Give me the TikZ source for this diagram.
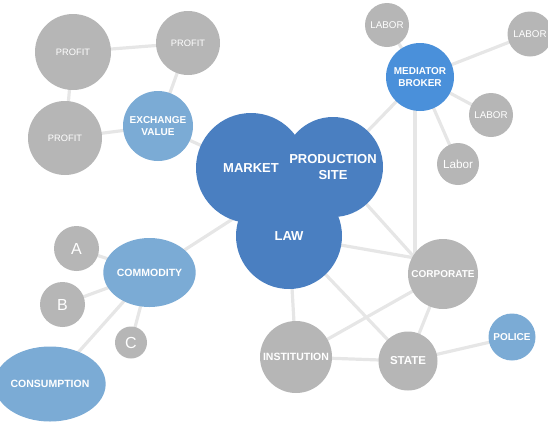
\documentclass[tikz,border=0pt]{standalone}
\usepackage{fontspec}
\setmainfont{Liberation Sans}
\usetikzlibrary{shapes.geometric}
\definecolor{darkblue}{HTML}{4A7FC1}
\definecolor{lightblue}{HTML}{7BABD5}
\definecolor{medblue}{HTML}{4A90DA}
\definecolor{nodegray}{HTML}{B6B6B6}
\definecolor{edgegray}{HTML}{E6E6E6}
\tikzset{
  bubble/.style={circle, inner sep=0pt, draw=none, text=white, align=center, font=\bfseries},
  oval/.style={ellipse, inner sep=0pt, draw=none, text=white, align=center, font=\bfseries},
  link/.style={draw=edgegray, line width=3.2pt},
  fs/.style={font=\fontsize{#1}{#1}\selectfont\bfseries},
  fr/.style={font=\fontsize{#1}{#1}\selectfont},
}
\begin{document}
\begin{tikzpicture}[x=1pt,y=-1pt]
\useasboundingbox (0,0) rectangle (548,424);
% coordinates
\coordinate (p1c) at (73,52);
\coordinate (p2c) at (188,43);
\coordinate (p3c) at (65,138);
\coordinate (exc) at (158,126);
\coordinate (marketc) at (251,168);
\coordinate (prodc) at (333,167);
\coordinate (lawc) at (289,236);
\coordinate (medc) at (420,77);
\coordinate (l1c) at (387,25);
\coordinate (l2c) at (530,34);
\coordinate (l3c) at (491,115);
\coordinate (l4c) at (458,164);
\coordinate (corpc) at (443,274);
\coordinate (statec) at (408,361);
\coordinate (policec) at (512,337);
\coordinate (instc) at (296,357);
\coordinate (commc) at (149.5,272.5);
\coordinate (ac) at (76.5,248.5);
\coordinate (bc) at (62.5,304.5);
\coordinate (cc) at (131,342.5);
\coordinate (consc) at (50,384);
\coordinate (cj) at (415,258);
\coordinate (blobj) at (270,195);
% links
\draw[link] (p1c) -- (p2c);
\draw[link] (p1c) -- (p3c);
\draw[link] (p2c) -- (exc);
\draw[link] (p3c) -- (exc);
\draw[link] (exc) -- (marketc);
\draw[link] (medc) -- (l1c);
\draw[link] (medc) -- (l2c);
\draw[link] (medc) -- (l3c);
\draw[link] (medc) -- (l4c);
\draw[link] (medc) -- (prodc);
\draw[link] (cj |- medc) -- (cj);
\draw[link] (prodc) -- (cj);
\draw[link] (lawc) -- (cj);
\draw[link] (lawc) -- (statec);
\draw[link] (lawc) -- (instc);
\draw[link] (instc) -- (corpc);
\draw[link] (instc) -- (statec);
\draw[link] (corpc) -- (statec);
\draw[link] (statec) -- (policec);
\draw[link] (commc) -- (blobj);
\draw[link] (commc) -- (ac);
\draw[link] (commc) -- (bc);
\draw[link] (commc) -- (cc);
\draw[link] (commc) -- (consc);
% nodes
\node[bubble, fill=nodegray, minimum size=76pt, fr=9.3] (p1) at (p1c) {PROFIT};
\node[bubble, fill=nodegray, minimum size=64pt, fr=9.3] (p2) at (p2c) {PROFIT};
\node[bubble, fill=nodegray, minimum size=74pt, fr=9.3] (p3) at (p3c) {PROFIT};
\node[bubble, fill=lightblue, minimum size=70pt, fs=10] (ex) at (exc) {EXCHANGE\\[1.5pt]VALUE};
\node[bubble, fill=darkblue, minimum size=110pt, fs=13] (market) at (marketc) {MARKET};
\node[bubble, fill=darkblue, minimum size=100pt, fs=13] (prod) at (prodc) {PRODUCTION\\[2.5pt]SITE};
\node[bubble, fill=darkblue, minimum size=106pt, fs=13] (law) at (lawc) {LAW};
\node[bubble, fill=medblue, minimum size=68pt, fs=10] (med) at (medc) {MEDIATOR\\[1.5pt]BROKER};
\node[bubble, fill=nodegray, minimum size=44pt, fr=9.8] (l1) at (l1c) {LABOR};
\node[bubble, fill=nodegray, minimum size=45pt, fr=9.8] (l2) at (l2c) {LABOR};
\node[bubble, fill=nodegray, minimum size=44pt, fr=9.8] (l3) at (l3c) {LABOR};
\node[bubble, fill=nodegray, minimum size=42pt, fr=11.7] (l4) at (l4c) {Labor};
\node[bubble, fill=nodegray, minimum size=70pt, fs=10] (corp) at (corpc) {CORPORATE};
\node[bubble, fill=nodegray, minimum size=59pt, fs=11.5] (state) at (statec) {STATE};
\node[bubble, fill=lightblue, minimum size=47pt, fs=10] (police) at (policec) {POLICE};
\node[bubble, fill=nodegray, minimum size=72pt, fs=10.5] (inst) at (instc) {INSTITUTION};
\node[oval, fill=lightblue, minimum width=75pt, minimum height=69pt, fs=10.5] (comm) at (commc) {COMMODITY};
\node[bubble, fill=nodegray, minimum size=45pt, fr=16] (a) at (ac) {A};
\node[bubble, fill=nodegray, minimum size=45pt, fr=16] (b) at (bc) {B};
\node[bubble, fill=nodegray, minimum size=32pt, fr=16] (c) at (cc) {C};
\node[oval, fill=lightblue, minimum width=93pt, minimum height=75pt, fs=10.5] (cons) at (consc) {CONSUMPTION};
\end{tikzpicture}
\end{document}
